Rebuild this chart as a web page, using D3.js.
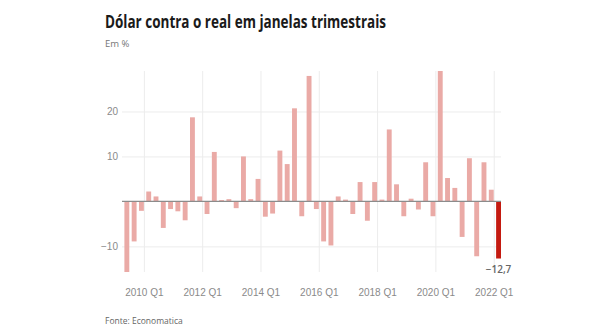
<!DOCTYPE html>
<html>
<head>
<meta charset="utf-8">
<script src="https://cdn.jsdelivr.net/npm/d3@7"></script>
<style>
  body { margin: 0; background: #fff; }
  svg { font-family: "Open Sans", sans-serif; }
  .grid line { stroke: #ececec; stroke-width: 1; }
  .grid text { fill: #8a8a8a; font-size: 10px; }
</style>
</head>
<body>
<div id="chart"></div>
<script>
// quarterly change of the dollar against the real, in %
let quarters = [
  "2009 Q2", "2009 Q3", "2009 Q4",
  "2010 Q1", "2010 Q2", "2010 Q3", "2010 Q4",
  "2011 Q1", "2011 Q2", "2011 Q3", "2011 Q4",
  "2012 Q1", "2012 Q2", "2012 Q3", "2012 Q4",
  "2013 Q1", "2013 Q2", "2013 Q3", "2013 Q4",
  "2014 Q1", "2014 Q2", "2014 Q3", "2014 Q4",
  "2015 Q1", "2015 Q2", "2015 Q3", "2015 Q4",
  "2016 Q1", "2016 Q2", "2016 Q3", "2016 Q4",
  "2017 Q1", "2017 Q2", "2017 Q3", "2017 Q4",
  "2018 Q1", "2018 Q2", "2018 Q3", "2018 Q4",
  "2019 Q1", "2019 Q2", "2019 Q3", "2019 Q4",
  "2020 Q1", "2020 Q2", "2020 Q3", "2020 Q4",
  "2021 Q1", "2021 Q2", "2021 Q3", "2021 Q4",
  "2022 Q1"
];
let changes = [
  -15.7, -8.9, -2.1,
  2.2, 1.1, -5.9, -1.7,
  -2.2, -4.2, 18.7, 1.1,
  -2.8, 11.0, 0.3, 0.5,
  -1.5, 10.0, 0.5, 5.0,
  -3.4, -2.7, 11.3, 8.3,
  20.7, -3.3, 27.9, -1.7,
  -8.9, -9.8, 1.1, 0.4,
  -2.8, 4.3, -4.3, 4.3,
  0.4, 16.0, 3.8, -3.3,
  0.6, -1.8, 8.7, -3.3,
  29.0, 5.2, 3.0, -7.9,
  9.6, -12.2, 8.7, 2.6,
  -12.7
];
let yTicks = [-10, 10, 20];
let xTickYears = [2010, 2012, 2014, 2016, 2018, 2020, 2022];

let width = 590
let height = 330
let plotLeft = 122, plotRight = 501, plotTop = 71, plotBottom = 272
let barGap = 2.4

// "2012 Q3" -> 2012.5
function quarterTime(q) {
  let parts = q.split(" Q");
  return +parts[0] + (+parts[1] - 1) / 4;
}

let data = quarters.map((q, i) => ({ quarter: q, t: quarterTime(q), value: changes[i] }));
let last = data[data.length - 1];

let svg = d3.select("#chart").append("svg")
  .attr("width", width)
  .attr("height", height);

let x = d3.scaleLinear()
  .domain([data[0].t, last.t + 0.25])
  .range([plotLeft, plotRight]);

let y = d3.scaleLinear()
  .domain([d3.min(changes), d3.max(changes)])
  .range([plotBottom, plotTop]);

// title block
svg.append("text")
  .attr("x", 105).attr("y", 28)
  .attr("font-size", 17).attr("font-weight", 700).attr("fill", "#1a1a1a")
  .attr("textLength", 281).attr("lengthAdjust", "spacingAndGlyphs")
  .text("Dólar contra o real em janelas trimestrais");

svg.append("text")
  .attr("x", 105).attr("y", 47)
  .attr("font-size", 9.5).attr("fill", "#777")
  .text("Em %");

// horizontal grid + y labels
let yAxis = svg.append("g")
  .attr("class", "grid")
  .attr("transform", `translate(${plotLeft},0)`)
  .call(d3.axisLeft(y).tickValues(yTicks).tickSize(-(plotRight - plotLeft)).tickPadding(4));
yAxis.select(".domain").remove();

// vertical grid + x labels
let xAxis = svg.append("g")
  .attr("class", "grid")
  .attr("transform", `translate(0,${plotBottom})`)
  .call(d3.axisBottom(x)
    .tickValues(xTickYears)
    .tickFormat(d => d + " Q1")
    .tickSize(-(plotBottom - plotTop))
    .tickPadding(17));
xAxis.select(".domain").remove();

// bars
svg.append("g")
  .selectAll("rect")
  .data(data)
  .join("rect")
  .attr("x", d => x(d.t) + barGap)
  .attr("width", d => x(d.t + 0.25) - x(d.t) - barGap)
  .attr("y", d => y(Math.max(0, d.value)))
  .attr("height", d => Math.abs(y(d.value) - y(0)))
  .attr("fill", d => d === last ? "#c41a10" : "#eaaaa6");

// zero line
svg.append("line")
  .attr("x1", plotLeft).attr("x2", plotRight)
  .attr("y1", y(0)).attr("y2", y(0))
  .attr("stroke", "#8c8c8c").attr("stroke-width", 1.2);

// value of the latest quarter
svg.append("text")
  .attr("x", (x(last.t) + barGap + x(last.t + 0.25)) / 2)
  .attr("y", y(last.value) + 14)
  .attr("text-anchor", "middle")
  .attr("font-size", 10).attr("font-weight", 600).attr("fill", "#666")
  .text(d3.format(".1f")(last.value).replace(".", ","));

svg.append("text")
  .attr("x", 105).attr("y", 324)
  .attr("font-size", 8.5).attr("fill", "#666")
  .text("Fonte: Economatica");
</script>
</body>
</html>
